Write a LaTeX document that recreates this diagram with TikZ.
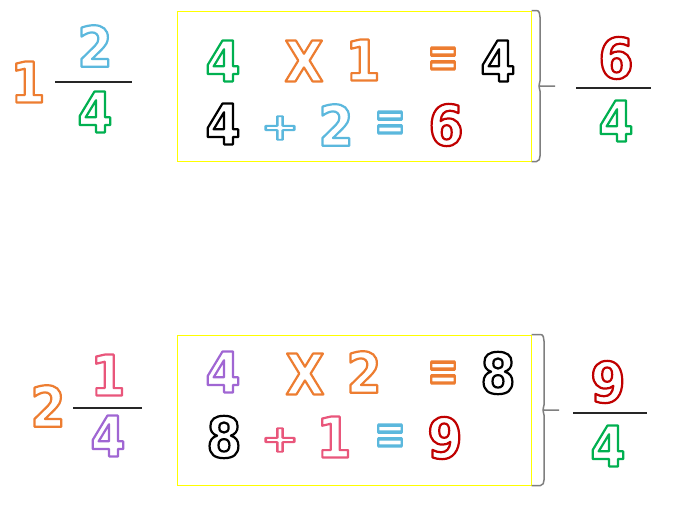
\documentclass[tikz,border=0pt]{standalone}
\usepackage{fontspec}
\newfontfamily\digfont{DejaVu Sans}[FakeStretch=0.9]
\definecolor{cOrange}{HTML}{ED7D31}
\definecolor{cBlue}{HTML}{5BB8DD}
\definecolor{cGreen}{HTML}{00B050}
\definecolor{cRed}{HTML}{C00000}
\definecolor{cPink}{HTML}{E9567B}
\definecolor{cPurple}{HTML}{A066D3}
\definecolor{cBox}{HTML}{FFFF00}
\definecolor{cBrace}{HTML}{7F7F7F}
\newcommand\olt[2]{\textcolor{#1}{\special{pdf:literal direct 1 Tr 2.2 w 1 j}#2\special{pdf:literal direct 0 Tr}}}
\newcommand\oleq[1]{\scalebox{1.05}[1.55]{\olt{#1}{=}}}
\newcommand\olplus[1]{\scalebox{1.15}[0.85]{\olt{#1}{+}}}
\tikzset{
  big/.style={font=\digfont\bfseries\fontsize{56}{56}\selectfont, inner sep=0pt, anchor=center},
  sym/.style={font=\digfont\bfseries\fontsize{40}{40}\selectfont, inner sep=0pt, anchor=center},
  plussym/.style={font=\digfont\bfseries\fontsize{44}{44}\selectfont, inner sep=0pt, anchor=center},
  fracbar/.style={line width=1.3pt, black!85},
  bracket/.style={line width=1.5pt, cBrace},
  panel/.style={draw=cBox, line width=1pt, minimum width=354pt, minimum height=150pt, inner sep=0pt}
}
\begin{document}
\begin{tikzpicture}[x=1pt,y=-1pt]
\useasboundingbox[fill=white] (0,0) rectangle (673,506);
% ---------- top ----------
\node[big] (w1) at (28,82) {\olt{cOrange}{1}};
\node[big] (n1) at (95,46) {\olt{cBlue}{2}};
\node[big] (d1) at (95,112) {\olt{cGreen}{4}};
\coordinate (f1a) at (55,82); \coordinate (f1b) at (132,82);
\draw[fracbar] (f1a) -- (f1b);

\node[panel] (box1) at (354,86) {};
\node[big] (a1) at (223,61) {\olt{cGreen}{4}};
\node[big] (a2) at (304,61) {\olt{cOrange}{X}};
\node[big] (a3) at (363,60) {\olt{cOrange}{1}};
\node[sym] (a4) at (443,63) {\oleq{cOrange}};
\node[big] (a5) at (498,61) {\olt{black}{4}};
\node[big] (b1) at (223,124) {\olt{black}{4}};
\node[plussym] (b2) at (280,128) {\olplus{cBlue}};
\node[big] (b3) at (336,125) {\olt{cBlue}{2}};
\node[sym] (b4) at (390,127) {\oleq{cBlue}};
\node[big] (b5) at (446,125) {\olt{cRed}{6}};

\coordinate (t1) at (540,86);
\coordinate (t1e) at (555,86);
\draw[bracket] (box1.north east) -- ++(5,0) to[out=0,in=90] (540,17) -- (540,81) to[out=-90,in=180] (t1) -- (t1e);
\draw[bracket] (box1.south east) -- ++(5,0) to[out=0,in=-90] (540,156) -- (540,91) to[out=90,in=180] (t1);

\node[big] (r1) at (616,58) {\olt{cRed}{6}};
\node[big] (s1) at (616,121) {\olt{cGreen}{4}};
\coordinate (g1a) at (576,88); \coordinate (g1b) at (651,88);
\draw[fracbar] (g1a) -- (g1b);

% ---------- bottom ----------
\node[big] (w2) at (48,406) {\olt{cOrange}{2}};
\node[big] (n2) at (108,375) {\olt{cPink}{1}};
\node[big] (d2) at (108,436) {\olt{cPurple}{4}};
\coordinate (f2a) at (73,408); \coordinate (f2b) at (142,408);
\draw[fracbar] (f2a) -- (f2b);

\node[panel] (box2) at (354,410) {};
\node[big] (c1) at (223,372) {\olt{cPurple}{4}};
\node[big] (c2) at (305,374) {\olt{cOrange}{X}};
\node[big] (c3) at (364,372) {\olt{cOrange}{2}};
\node[sym] (c4) at (443,377) {\oleq{cOrange}};
\node[big] (c5) at (498,373) {\olt{black}{8}};
\node[big] (e1) at (224,437) {\olt{black}{8}};
\node[plussym] (e2) at (280,440) {\olplus{cPink}};
\node[big] (e3) at (334,437) {\olt{cPink}{1}};
\node[sym] (e4) at (390,440) {\oleq{cBlue}};
\node[big] (e5) at (445,438) {\olt{cRed}{9}};

\coordinate (t2) at (544,410);
\coordinate (t2e) at (559,410);
\draw[bracket] (box2.north east) -- ++(9,0) to[out=0,in=90] (544,341) -- (544,405) to[out=-90,in=180] (t2) -- (t2e);
\draw[bracket] (box2.south east) -- ++(9,0) to[out=0,in=-90] (544,480) -- (544,415) to[out=90,in=180] (t2);

\node[big] (r2) at (608,382) {\olt{cRed}{9}};
\node[big] (s2) at (608,446) {\olt{cGreen}{4}};
\coordinate (g2a) at (573,413); \coordinate (g2b) at (647,413);
\draw[fracbar] (g2a) -- (g2b);
\end{tikzpicture}
\end{document}
